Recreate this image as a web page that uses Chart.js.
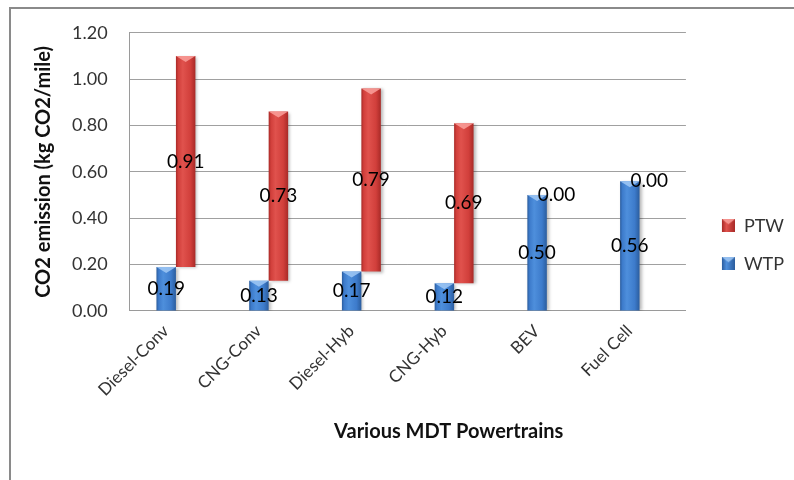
<!DOCTYPE html>
<html>
<head>
<meta charset="utf-8">
<script src="https://cdn.jsdelivr.net/npm/chart.js@4/dist/chart.umd.min.js"></script>
<style>
  html, body { margin: 0; padding: 0; background: #fff; }
  #wrap { position: relative; width: 794px; height: 480px; overflow: hidden; }
  #frame { position: absolute; left: 9px; top: 7px; width: 820px; height: 500px;
           border-left: 2px solid #8a8a8a; border-top: 2px solid #8a8a8a; box-sizing: border-box; }
  #c { position: absolute; left: 0; top: 0; }
</style>
</head>
<body>
<div id="wrap">
  <div id="frame"></div>
  <canvas id="c" width="794" height="480"></canvas>
</div>
<script>
// Powertrain categories and emissions (kg CO2 per mile)
const categories = ['Diesel-Conv', 'CNG-Conv', 'Diesel-Hyb', 'CNG-Hyb', 'BEV', 'Fuel Cell'];
const wtpValues = [0.19, 0.13, 0.17, 0.12, 0.50, 0.56];   // well-to-pump
const ptwValues = [0.91, 0.73, 0.79, 0.69, 0.00, 0.00];   // pump-to-wheel
const yTickValues = [0.00, 0.20, 0.40, 0.60, 0.80, 1.00, 1.20];
const xAxisTitle = 'Various MDT Powertrains';

// PTW drawn as a floating bar that starts where WTP ends
const ptwRanges = wtpValues.map((w, i) => [w, +(w + ptwValues[i]).toFixed(2)]);

const CAT_PCT = 0.42;

const palettes = {
  blue: { edge: '#2b5d9e', mid: '#3d7bcb', hi: '#4e8fdc', top: 'rgba(160,200,245,0.85)', solid: '#3d7bcb' },
  red:  { edge: '#a82a27', mid: '#d13f3b', hi: '#e0524d', top: 'rgba(250,160,155,0.85)', solid: '#d13f3b' }
};

function barFill(ctx, pal) {
  const chart = ctx.chart;
  const xs = chart.scales && chart.scales.x;
  if (ctx.type !== 'data' || !xs || !isFinite(xs.width) || xs.width <= 0) return pal.solid;
  const center = xs.getPixelForValue(ctx.dataIndex);
  const w = (xs.width / categories.length) * CAT_PCT / 2;
  const left = ctx.datasetIndex === 0 ? center - w : center;
  const g = chart.ctx.createLinearGradient(left, 0, left + w, 0);
  g.addColorStop(0, pal.edge);
  g.addColorStop(0.12, pal.mid);
  g.addColorStop(0.35, pal.hi);
  g.addColorStop(0.75, pal.mid);
  g.addColorStop(1, pal.edge);
  return g;
}

function legendIcon(pal) {
  const pad = 16, s = 13;
  const cv = document.createElement('canvas');
  cv.width = pad + s; cv.height = s;
  const c = cv.getContext('2d');
  const g = c.createLinearGradient(pad, 0, pad + s, 0);
  g.addColorStop(0, pal.edge); g.addColorStop(0.35, pal.hi); g.addColorStop(1, pal.edge);
  c.fillStyle = g;
  c.fillRect(pad, 0, s, s);
  c.fillStyle = pal.top;
  c.beginPath(); c.moveTo(pad, 0); c.lineTo(pad + s, 0); c.lineTo(pad + s / 2, 5); c.closePath(); c.fill();
  return cv;
}
const icons = [legendIcon(palettes.blue), legendIcon(palettes.red)];

// Soft drop shadow behind the bars
const barShadow = {
  id: 'barShadow',
  beforeDatasetDraw(chart) {
    const c = chart.ctx; c.save();
    c.shadowColor = 'rgba(0,0,0,0.28)'; c.shadowBlur = 3; c.shadowOffsetX = 2; c.shadowOffsetY = 1;
  },
  afterDatasetDraw(chart) { chart.ctx.restore(); }
};

// Light bevel on top of each bar, then the value labels
const bevelAndLabels = {
  id: 'bevelAndLabels',
  afterDatasetsDraw(chart) {
    const c = chart.ctx;
    const pals = [palettes.blue, palettes.red];
    const vals = [wtpValues, ptwValues];
    chart.data.datasets.forEach((ds, di) => {
      const meta = chart.getDatasetMeta(di);
      meta.data.forEach((el) => {
        const top = Math.min(el.y, el.base), h = Math.abs(el.base - el.y);
        if (h < 2) return;
        const half = el.width / 2;
        c.save();
        c.fillStyle = pals[di].top;
        c.beginPath();
        c.moveTo(el.x - half, top);
        c.lineTo(el.x + half, top);
        c.lineTo(el.x, top + Math.min(6, h));
        c.closePath();
        c.fill();
        c.restore();
      });
    });
    c.save();
    c.font = '19px Lato';
    c.fillStyle = '#000';
    c.textAlign = 'center';
    c.textBaseline = 'middle';
    chart.data.datasets.forEach((ds, di) => {
      const meta = chart.getDatasetMeta(di);
      meta.data.forEach((el, i) => {
        c.fillText(vals[di][i].toFixed(2), el.x, (el.y + el.base) / 2);
      });
    });
    c.restore();
  }
};

// Category axis title, centred a little right of the plot centre
const xTitle = {
  id: 'xTitle',
  afterDraw(chart) {
    const a = chart.chartArea, c = chart.ctx;
    c.save();
    c.font = 'bold 20px Lato';
    c.fillStyle = '#111';
    c.textAlign = 'center';
    c.textBaseline = 'middle';
    c.fillText(xAxisTitle, (a.left + a.right) / 2 + 41, chart.height - 48);
    c.restore();
  }
};

new Chart(document.getElementById('c'), {
  type: 'bar',
  data: {
    labels: categories,
    datasets: [
      { label: 'WTP', data: wtpValues, backgroundColor: (ctx) => barFill(ctx, palettes.blue), borderWidth: 0 },
      { label: 'PTW', data: ptwRanges, backgroundColor: (ctx) => barFill(ctx, palettes.red), borderWidth: 0 }
    ]
  },
  options: {
    responsive: false,
    animation: false,
    devicePixelRatio: 1,
    categoryPercentage: CAT_PCT,
    barPercentage: 1.0,
    layout: { padding: { top: 15, right: 0, bottom: 78, left: 26 } },
    scales: {
      x: {
        grid: { display: false },
        border: { display: true, color: '#9a9a9a', width: 1 },
        ticks: { minRotation: 45, maxRotation: 45, padding: 2, labelOffset: -10, color: '#333',
                 font: { family: 'Lato', size: 17 } }
      },
      y: {
        min: 0, max: 1.2,
        afterBuildTicks(scale) { scale.ticks = yTickValues.map(v => ({ value: v })); },
        grid: { color: '#a0a0a0', lineWidth: 1, drawTicks: false },
        border: { display: true, color: '#9a9a9a', width: 1 },
        ticks: { padding: 22, color: '#333', font: { family: 'Lato', size: 18 },
                 callback: (v) => Number(v).toFixed(2) },
        title: { display: true, text: 'CO2 emission (kg CO2/mile)', color: '#111',
                 font: { family: 'Lato', size: 20, weight: 'bold' }, padding: { top: 6, bottom: -6 } }
      }
    },
    plugins: {
      tooltip: { enabled: false },
      legend: {
        position: 'right',
        reverse: true,
        title: { display: true, text: ' ', padding: { top: 53, bottom: 5 }, font: { size: 12 } },
        labels: {
          usePointStyle: true,
          pointStyleWidth: 29,
          padding: 20,
          color: '#333',
          font: { family: 'Lato', size: 18 },
          generateLabels(chart) {
            return Chart.defaults.plugins.legend.labels.generateLabels(chart).map((it) => {
              it.pointStyle = icons[it.datasetIndex];
              return it;
            });
          }
        }
      }
    }
  },
  plugins: [barShadow, bevelAndLabels, xTitle]
});
</script>
</body>
</html>
